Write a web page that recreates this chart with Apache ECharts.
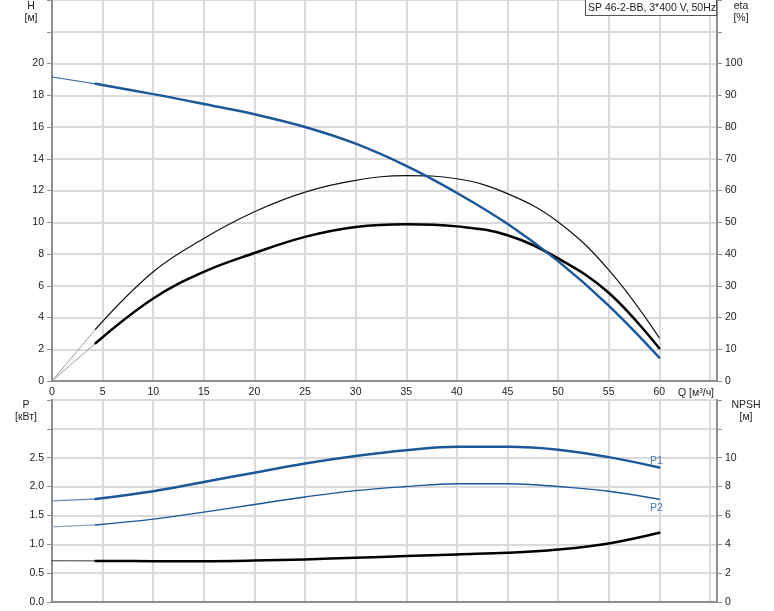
<!DOCTYPE html>
<html><head><meta charset="utf-8">
<script src="https://cdn.jsdelivr.net/npm/echarts@6/dist/echarts.min.js"></script>
<style>html,body{margin:0;padding:0;background:#fff}#c{width:774px;height:611px}</style>
</head><body><div id="c"></div>
<script>
// Flow values (m³/h)
const qStart = [0, 4.3];
const qMain = [4.3, 10, 15, 20, 25, 30, 35, 40, 45, 50, 55, 60];
// Head H (m)
const hStart = [19.15, 18.72];
const hMain = [18.72, 18.07, 17.45, 16.8, 16.0, 14.95, 13.55, 11.85, 9.9, 7.55, 4.75, 1.47];
// Efficiency eta (%) - pump (upper) and total (lower)
const etaPumpStart = [0, 16.3];
const etaPump = [16.3, 34.4, 44.9, 53.3, 59.5, 63.2, 64.7, 63.7, 59.0, 50.1, 35.0, 13.6];
const etaTotalStart = [0, 11.9];
const etaTotal = [11.9, 26.0, 34.4, 40.3, 45.4, 48.5, 49.4, 48.7, 45.9, 38.6, 27.8, 10.3];
// Power (kW)
const p1Start = [1.753, 1.785];
const p1Main = [1.785, 1.92, 2.08, 2.24, 2.40, 2.53, 2.63, 2.69, 2.69, 2.64, 2.51, 2.33];
const p2Start = [1.30, 1.335];
const p2Main = [1.335, 1.436, 1.557, 1.69, 1.82, 1.93, 2.0, 2.05, 2.05, 2.0, 1.92, 1.78];
// NPSH (m)
const npshStart = [2.86, 2.85];
const npshMain = [2.85, 2.83, 2.83, 2.87, 2.95, 3.07, 3.18, 3.3, 3.41, 3.64, 4.06, 4.8];

const title = 'SP 46-2-BB, 3*400 V, 50Hz';

const pairs = (xs, ys) => xs.map((x, i) => [x, ys[i]]);
const FONT = "'Liberation Sans', Arial, sans-serif";
const AX = '#8f8f8f', GRIDC = '#dadada', TXT = '#222', BLUE = '#1b5799';

function xAxisDef(gi, labels) {
  return {
    type: 'value', gridIndex: gi, min: 0, max: 65.7, interval: 5,
    axisLine: { show: true, onZero: false, lineStyle: { color: AX, width: 2 } },
    axisTick: { show: false },
    axisLabel: labels ? { show: true, margin: 6, fontSize: 10.5, fontFamily: FONT, color: TXT,
      formatter: v => (v % 5 === 0 && v <= 60) ? String(v) : '' } : { show: false },
    splitLine: { show: true, lineStyle: { color: GRIDC, width: 2 } }
  };
}
function yAxisDef(gi, pos, max, interval, labelMax, fmt, split) {
  return {
    type: 'value', gridIndex: gi, position: pos, min: 0, max: max, interval: interval,
    axisLine: { show: true, onZero: false, lineStyle: { color: AX, width: 2 } },
    axisTick: { show: true, length: 5, lineStyle: { color: AX, width: 1 } },
    axisLabel: { margin: 8, fontSize: 10.5, fontFamily: FONT, color: TXT,
      formatter: v => v <= labelMax + 1e-9 ? fmt(v) : '' },
    splitLine: { show: split, lineStyle: { color: GRIDC, width: 2 } }
  };
}
function line(xi, yi, data, color, width) {
  return { type: 'line', xAxisIndex: xi, yAxisIndex: yi, data: data, showSymbol: false, symbol: 'none',
    smooth: 0.4, silent: true,
    lineStyle: { color: color, width: width, cap: 'round', join: 'round' } };
}
function txt(x, y, s, align) {
  return { type: 'text', x: x, y: y, silent: true, z: 100,
    style: { text: s, font: '10.5px ' + FONT, fill: TXT, align: align || 'center', verticalAlign: 'middle' } };
}

const chart = echarts.init(document.getElementById('c'));
chart.setOption({
  animation: false,
  backgroundColor: '#fff',
  grid: [
    { left: 52, top: 0, width: 665, height: 381 },
    { left: 52, top: 400, width: 665, height: 202, show: true, borderColor: AX, borderWidth: 2, backgroundColor: 'transparent' }
  ],
  xAxis: [xAxisDef(0, true), xAxisDef(1, false)],
  yAxis: [
    yAxisDef(0, 'left', 24, 2, 20, v => String(v), true),
    yAxisDef(0, 'right', 120, 10, 100, v => String(v), false),
    yAxisDef(1, 'left', 3.5, 0.5, 2.5, v => v.toFixed(1), true),
    yAxisDef(1, 'right', 14, 2, 10, v => String(v), false)
  ],
  series: [
    line(0, 1, pairs(qStart, etaPumpStart), '#9a9a9a', 1),
    line(0, 1, pairs(qMain, etaPump), '#111', 1.2),
    line(0, 1, pairs(qStart, etaTotalStart), '#9a9a9a', 1),
    line(0, 1, pairs(qMain, etaTotal), '#000', 2.5),
    line(0, 0, pairs(qStart, hStart), BLUE, 1),
    line(0, 0, pairs(qMain, hMain), BLUE, 2.5),
    line(1, 3, pairs(qStart, npshStart), '#333', 1),
    line(1, 3, pairs(qMain, npshMain), '#000', 2.5),
    line(1, 2, pairs(qStart, p2Start), '#8fa6c4', 1.2),
    line(1, 2, pairs(qMain, p2Main), BLUE, 1.4),
    line(1, 2, pairs(qStart, p1Start), '#6f8fb8', 1.3),
    line(1, 2, pairs(qMain, p1Main), BLUE, 2.5),
    { type: 'scatter', xAxisIndex: 1, yAxisIndex: 2, symbolSize: 0, silent: true,
      data: [
        { value: [qMain[qMain.length - 1], p1Main[p1Main.length - 1]],
          label: { show: true, position: 'inside', formatter: 'P1', offset: [-3, -6] } },
        { value: [qMain[qMain.length - 1], p2Main[p2Main.length - 1]],
          label: { show: true, position: 'inside', formatter: 'P2', offset: [-3, 9] } }
      ],
      label: { color: BLUE, fontSize: 10.5, fontFamily: FONT } }
  ],
  graphic: [
    txt(31, 6, 'H'), txt(31, 18, '[м]'),
    txt(741, 6, 'eta'), txt(741, 18, '[%]'),
    txt(26, 405, 'P'), txt(26, 417, '[кВт]'),
    txt(746, 405, 'NPSH'), txt(746, 417, '[м]'),
    txt(678, 393, 'Q [м³/ч]', 'left'),
    { type: 'rect', silent: true, z: 99, shape: { x: 585.5, y: -0.5, width: 131, height: 16 },
      style: { fill: '#fff', stroke: '#555', lineWidth: 1 } },
    txt(588, 8, title, 'left')
  ]
});
</script></body></html>
